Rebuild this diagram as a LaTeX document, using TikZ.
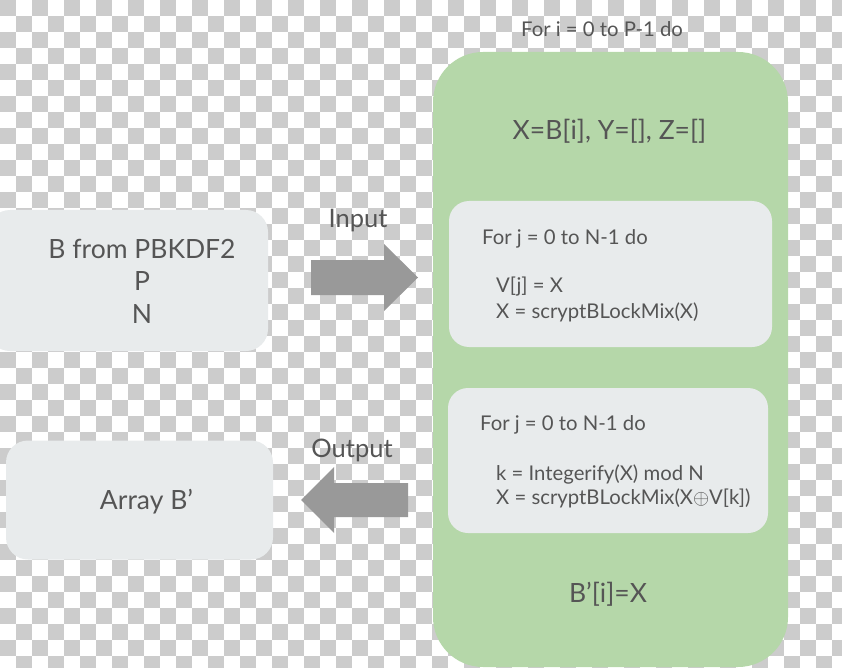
\documentclass[tikz,border=0pt]{standalone}
\usepackage{fontspec}
\setmainfont{Lato}
\definecolor{checkgray}{RGB}{204,204,204}
\definecolor{loopgreen}{RGB}{181,215,169}
\definecolor{panelgray}{RGB}{232,235,236}
\definecolor{inkgray}{RGB}{85,85,85}
\definecolor{arrowgray}{RGB}{153,153,153}
\begin{document}
\begin{tikzpicture}[x=1pt,y=-1pt,
  panel/.style={fill=panelgray,draw=none,rounded corners=22pt,inner sep=0pt},
  innerpanel/.style={fill=panelgray,draw=none,rounded corners=20pt,inner sep=0pt},
  looppanel/.style={fill=loopgreen,draw=none,rounded corners=50pt,inner sep=0pt},
  txt/.style={text=inkgray,inner sep=0pt},
  big/.style={txt,font=\fontsize{26.5}{31}\selectfont},
  mid/.style={txt,font=\fontsize{25.5}{30}\selectfont},
  small/.style={txt,font=\fontsize{20.3}{24}\selectfont},
  blockarrow/.style={fill=arrowgray,draw=none}]
\useasboundingbox (0,0) rectangle (842,668);

% transparent-style checkered backdrop
\begin{scope}
  \clip (0,0) rectangle (842,668);
  \foreach \r in {0,2,...,40}
    \foreach \c in {0,2,...,52}
      \fill[checkgray] ({16*\c},{16*\r}) rectangle +(16,16);
  \foreach \r in {1,3,...,41}
    \foreach \c in {1,3,...,51}
      \fill[checkgray] ({16*\c},{16*\r}) rectangle +(16,16);
\end{scope}

% outer loop over i
\node[looppanel,minimum width=355,minimum height=615] (outer) at (610.5,359.5) {};
\node[small,anchor=base] (outerhead) at (602,37) {For i = 0 to P-1 do};
\node[big,anchor=base] (init) at (609.5,139.5) {X=B[i], Y=[], Z=[]};
\node[big,anchor=base] (store) at (608,602.5) {B’[i]=X};

% first inner loop
\node[innerpanel,minimum width=323,minimum height=146] (loopA) at (610.5,274) {};
\node[small,anchor=base west] (loopAhead) at (482,244) {For j = 0 to N-1 do};
\node[small,anchor=base west] (loopAl1) at (496,292) {V[j] = X};
\node[small,anchor=base west] (loopAl2) at (496,318) {X = scryptBLockMix(X)};

% second inner loop
\node[innerpanel,minimum width=320,minimum height=145] (loopB) at (608,460.5) {};
\node[small,anchor=base west] (loopBhead) at (480,430) {For j = 0 to N-1 do};
\node[small,anchor=base west] (loopBl1) at (496,480) {k = Integerify(X) mod N};
\node[small,anchor=base west] (loopBl2) at (496,504) {X = scryptBLockMix(X$\oplus$V[k])};

% input parameters
\node[panel,minimum width=280,minimum height=141] (params) at (128,280.5) {};
\node[big,anchor=base] (pB) at (142,258.5) {B from PBKDF2};
\node[big,anchor=base] (pP) at (142,290.5) {P};
\node[big,anchor=base] (pN) at (142,323.5) {N};

% result
\node[panel,minimum width=267,minimum height=119] (result) at (139.5,500) {};
\node[big,anchor=base] (resB) at (146.5,509.5) {Array B’};

% block arrows
\coordinate (inTail) at (311,277.5);
\coordinate (inTip) at (418,277.5);
\fill[blockarrow] (inTail) ++(0,-17.5) -- (384,260) -- (384,244) -- (inTip)
  -- (384,311) -- (384,295) -- (311,295) -- cycle;
\node[mid,anchor=base] (inLabel) at (358,228) {Input};

\coordinate (outTail) at (408,500);
\coordinate (outTip) at (301,500);
\fill[blockarrow] (outTail) ++(0,-17) -- (334,483) -- (334,467) -- (outTip)
  -- (334,533) -- (334,517) -- (408,517) -- cycle;
\node[mid,anchor=base] (outLabel) at (352,457) {Output};
\end{tikzpicture}
\end{document}
